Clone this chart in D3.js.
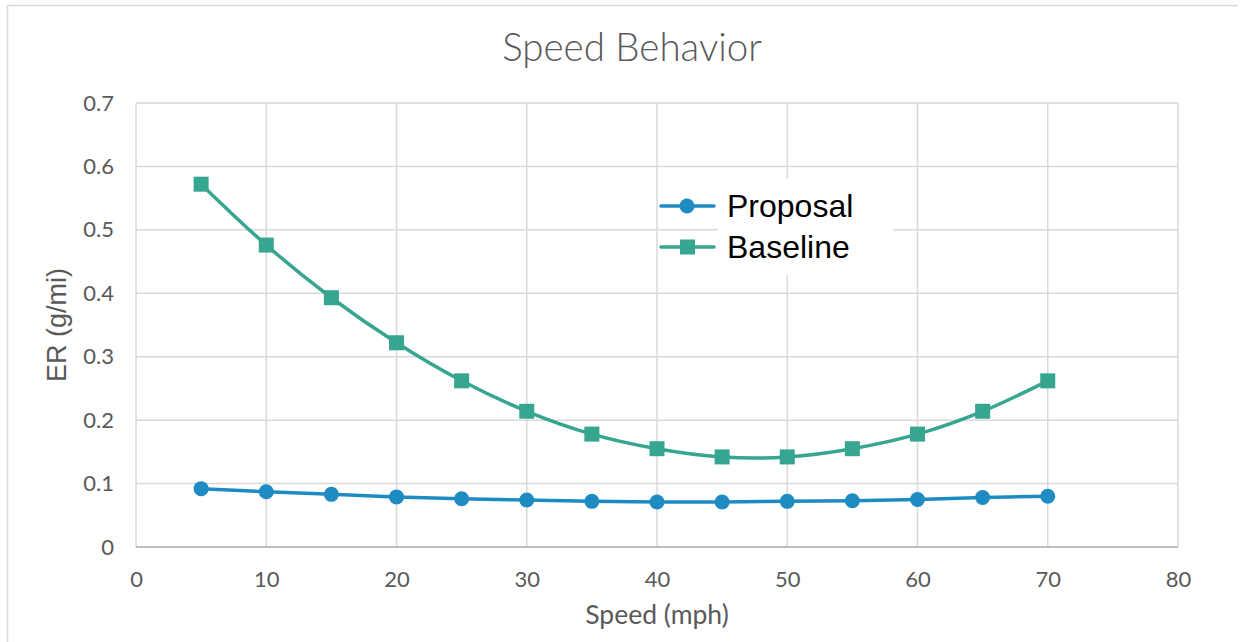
<!DOCTYPE html>
<html>
<head>
<meta charset="utf-8">
<script src="https://cdn.jsdelivr.net/npm/d3@7"></script>
<style>
  body { margin: 0; background: #fff; }
  svg { display: block; }
</style>
</head>
<body>
<svg id="chart" width="1249" height="642"></svg>
<script>
const speeds = [5, 10, 15, 20, 25, 30, 35, 40, 45, 50, 55, 60, 65, 70];
const proposal = [0.092, 0.087, 0.083, 0.079, 0.076, 0.074, 0.072, 0.071, 0.071, 0.072, 0.073, 0.075, 0.078, 0.080];
const baseline = [0.572, 0.476, 0.393, 0.322, 0.262, 0.214, 0.178, 0.155, 0.142, 0.142, 0.155, 0.178, 0.214, 0.262];
const xTicks = [0, 10, 20, 30, 40, 50, 60, 70, 80];
const yTicks = [0, 0.1, 0.2, 0.3, 0.4, 0.5, 0.6, 0.7];

const svg = d3.select("#chart");
const margin = { top: 103, right: 71, bottom: 95, left: 136 };
const width = 1249, height = 642;
const fontLato = "Lato, 'Open Sans', sans-serif";
const fontArial = "'Liberation Sans', Arial, sans-serif";

// chart frame (cut off at right and bottom)
svg.append("path")
    .attr("d", "M7.5,642 L7.5,5.5 L1238,5.5")
    .attr("fill", "none")
    .attr("stroke", "#d9d9d9")
    .attr("stroke-width", 1.5);

const x = d3.scaleLinear().domain([0, 80]).range([margin.left, width - margin.right]);
const y = d3.scaleLinear().domain([0, 0.7]).range([height - margin.bottom, margin.top]);

// grid
svg.append("g")
    .selectAll("line")
    .data(yTicks.slice(1))
    .enter().append("line")
    .attr("x1", x(0)).attr("x2", x(80))
    .attr("y1", d => y(d)).attr("y2", d => y(d))
    .attr("stroke", "#d9d9d9").attr("stroke-width", 1.5);

svg.append("g")
    .selectAll("line")
    .data(xTicks)
    .enter().append("line")
    .attr("x1", d => x(d)).attr("x2", d => x(d))
    .attr("y1", y(0)).attr("y2", y(0.7))
    .attr("stroke", "#d9d9d9").attr("stroke-width", 1.5);

// x axis line
svg.append("line")
    .attr("x1", x(0)).attr("x2", x(80))
    .attr("y1", y(0)).attr("y2", y(0))
    .attr("stroke", "#bfbfbf").attr("stroke-width", 2);

// tick labels
const xAxis = svg.append("g")
    .attr("transform", `translate(0, ${y(0)})`)
    .call(d3.axisBottom(x).tickValues(xTicks).tickSize(0).tickPadding(24).tickFormat(d3.format("d")));
xAxis.select(".domain").remove();
xAxis.selectAll("text")
    .attr("font-family", fontLato).attr("font-size", 22).attr("fill", "#595959");

const yAxis = svg.append("g")
    .attr("transform", `translate(${x(0)}, 0)`)
    .call(d3.axisLeft(y).tickValues(yTicks).tickSize(0).tickPadding(22).tickFormat(d => d === 0 ? "0" : d3.format(".1f")(d)));
yAxis.select(".domain").remove();
yAxis.selectAll("text")
    .attr("font-family", fontLato).attr("font-size", 22).attr("fill", "#595959");

// titles
svg.append("text")
    .attr("x", 632).attr("y", 61)
    .attr("text-anchor", "middle")
    .attr("font-family", fontLato).attr("font-weight", 300).attr("font-size", 38.5).attr("fill", "#595959")
    .text("Speed Behavior");

svg.append("text")
    .attr("x", 657).attr("y", 624)
    .attr("text-anchor", "middle")
    .attr("font-family", fontLato).attr("font-size", 26.5).attr("fill", "#595959")
    .text("Speed (mph)");

svg.append("text")
    .attr("transform", `translate(66, ${y(0.35)}) rotate(-90)`)
    .attr("text-anchor", "middle")
    .attr("font-family", fontArial).attr("font-size", 27).attr("fill", "#595959")
    .text("ER (g/mi)");

// series
const series = [
    { name: "Proposal", values: proposal, color: "#1f8bc3", shape: "circle" },
    { name: "Baseline", values: baseline, color: "#37a690", shape: "square" }
];

const line = d3.line()
    .x(d => x(d[0]))
    .y(d => y(d[1]))
    .curve(d3.curveCatmullRom.alpha(0));

series.forEach(s => {
    const pts = speeds.map((v, i) => [v, s.values[i]]);
    svg.append("path")
        .datum(pts)
        .attr("fill", "none")
        .attr("stroke", s.color)
        .attr("stroke-width", 3.5)
        .attr("d", line);
    if (s.shape === "circle") {
        svg.append("g").selectAll("circle")
            .data(pts).enter().append("circle")
            .attr("cx", d => x(d[0])).attr("cy", d => y(d[1]))
            .attr("r", 7.5).attr("fill", s.color);
    } else {
        svg.append("g").selectAll("rect")
            .data(pts).enter().append("rect")
            .attr("x", d => x(d[0]) - 7.5).attr("y", d => y(d[1]) - 7.5)
            .attr("width", 15).attr("height", 15).attr("fill", s.color);
    }
});

// legend
svg.append("rect")
    .attr("x", 718).attr("y", 179).attr("width", 175).attr("height", 96)
    .attr("fill", "#fff");

const legend = svg.append("g");
series.forEach((s, i) => {
    const ly = 206 + i * 41;
    legend.append("line")
        .attr("x1", 661).attr("x2", 714).attr("y1", ly).attr("y2", ly)
        .attr("stroke", s.color).attr("stroke-width", 3.5).attr("stroke-linecap", "round");
    if (s.shape === "circle") {
        legend.append("circle").attr("cx", 687).attr("cy", ly).attr("r", 7.5).attr("fill", s.color);
    } else {
        legend.append("rect").attr("x", 680).attr("y", ly - 7.5).attr("width", 15).attr("height", 15).attr("fill", s.color);
    }
    legend.append("text")
        .attr("x", 727).attr("y", ly + 11)
        .attr("font-family", fontArial).attr("font-size", 32).attr("fill", "#000")
        .text(s.name);
});
</script>
</body>
</html>
